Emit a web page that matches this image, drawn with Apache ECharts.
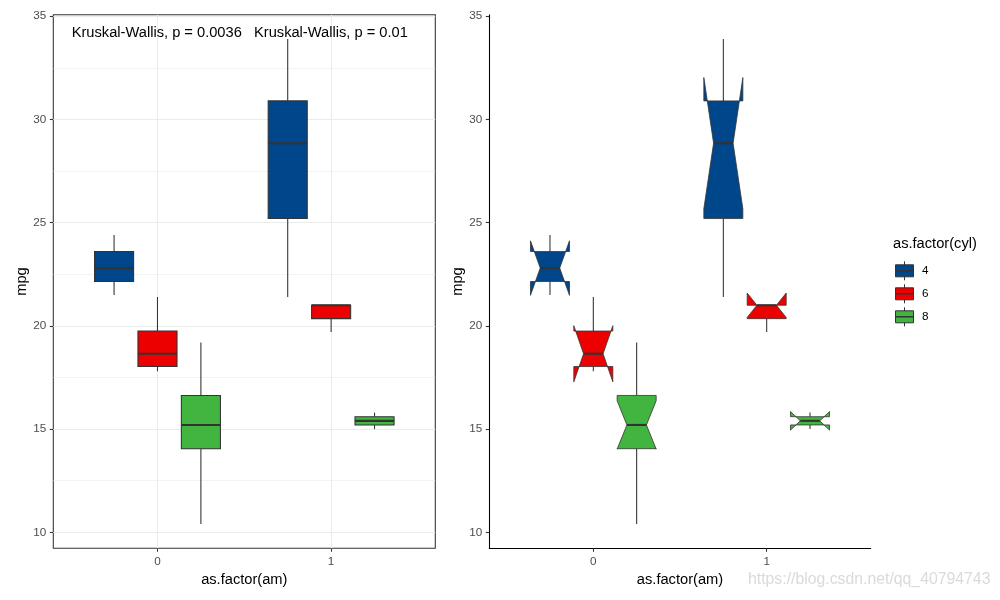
<!DOCTYPE html>
<html>
<head>
<meta charset="utf-8">
<script src="https://cdn.jsdelivr.net/npm/echarts@6/dist/echarts.min.js"></script>
<style>
html,body{margin:0;padding:0;background:#fff;}
#chart{width:1000px;height:600px;}
</style>
</head>
<body>
<div id="chart"></div>
<script>
// ---- data (mtcars mpg by am and cyl) ----
const amLevels = ['0', '1'];
const cylLevels = ['4', '6', '8'];
const cylColors = ['#00468B', '#ED0000', '#42B540'];
const groupAm  = [0, 0, 0, 1, 1, 1];
const groupCyl = [0, 1, 2, 0, 1, 2];
const boxMin   = [21.5, 17.8, 10.4, 21.4, 19.7, 15.0];
const boxQ1    = [22.15, 18.03, 14.05, 25.2, 20.35, 15.2];
const boxMed   = [22.8, 18.65, 15.2, 28.85, 21.0, 15.4];
const boxQ3    = [23.6, 19.75, 16.63, 30.9, 21.0, 15.6];
const boxMax   = [24.4, 21.4, 19.2, 33.9, 21.0, 15.8];
const notchLo  = [21.48, 17.29, 14.03, 25.67, 20.41, 14.95];
const notchHi  = [24.12, 20.01, 16.37, 32.03, 21.59, 15.85];
const yTicks   = [10, 15, 20, 25, 30, 35];
const yMinor   = [12.5, 17.5, 22.5, 27.5, 32.5];
const xTicks   = [0, 1];
const pLabels  = ['Kruskal-Wallis, p = 0.0036', 'Kruskal-Wallis, p = 0.01'];

const dodge = [-0.25, 0, 0.25];
const halfW = 0.1125;
const lineCol = '#333333';
const FONT = 'Liberation Sans, Arial, sans-serif';

const boxData = groupAm.map((a, i) => [a + dodge[groupCyl[i]], boxMin[i], boxQ1[i], boxMed[i], boxQ3[i], boxMax[i], notchLo[i], notchHi[i], groupCyl[i]]);

function whiskers(api, x) {
  const top1 = api.coord([x, api.value(4)]);
  const top2 = api.coord([x, api.value(5)]);
  const bot1 = api.coord([x, api.value(2)]);
  const bot2 = api.coord([x, api.value(1)]);
  const st = {stroke: lineCol, lineWidth: 1.07};
  return [
    {type: 'line', shape: {x1: top1[0], y1: top1[1], x2: top2[0], y2: top2[1]}, style: st},
    {type: 'line', shape: {x1: bot1[0], y1: bot1[1], x2: bot2[0], y2: bot2[1]}, style: st}
  ];
}

function renderPlain(params, api) {
  const x = api.value(0);
  const ci = api.value(8);
  const p1 = api.coord([x - halfW, api.value(4)]);
  const p2 = api.coord([x + halfW, api.value(2)]);
  const m1 = api.coord([x - halfW, api.value(3)]);
  const m2 = api.coord([x + halfW, api.value(3)]);
  const children = whiskers(api, x);
  children.push({type: 'rect', shape: {x: p1[0], y: p1[1], width: p2[0] - p1[0], height: p2[1] - p1[1]},
    style: {fill: cylColors[ci], stroke: lineCol, lineWidth: 1.07}});
  children.push({type: 'line', shape: {x1: m1[0], y1: m1[1], x2: m2[0], y2: m2[1]}, style: {stroke: lineCol, lineWidth: 2.1}});
  return {type: 'group', children: children};
}

function renderNotched(params, api) {
  const x = api.value(0);
  const ci = api.value(8);
  const q1 = api.value(2), med = api.value(3), q3 = api.value(4);
  const nl = api.value(6), nh = api.value(7);
  const xmin = x - halfW, xmax = x + halfW;
  const ind = 0.25 * (xmax - xmin);
  const pts = [
    [xmin, q3], [xmin, nh], [xmin + ind, med], [xmin, nl], [xmin, q1],
    [xmax, q1], [xmax, nl], [xmax - ind, med], [xmax, nh], [xmax, q3]
  ].map(p => api.coord(p));
  const m1 = api.coord([xmin + ind, med]);
  const m2 = api.coord([xmax - ind, med]);
  const children = whiskers(api, x);
  children.push({type: 'polygon', shape: {points: pts}, style: {fill: cylColors[ci], stroke: lineCol, lineWidth: 0.8}});
  children.push({type: 'line', shape: {x1: m1[0], y1: m1[1], x2: m2[0], y2: m2[1]}, style: {stroke: lineCol, lineWidth: 2.1}});
  return {type: 'group', children: children};
}

const Y_MIN = 9.225, Y_MAX = 35.075;
const X_MIN = -0.6, X_MAX = 1.6;

function xAxisCfg(idx) {
  return {
    type: 'value', gridIndex: idx, min: X_MIN, max: X_MAX,
    name: 'as.factor(am)', nameLocation: 'middle', nameGap: 22,
    nameTextStyle: {color: '#000', fontSize: 14.67, fontFamily: FONT},
    axisLine: {show: idx === 1, onZero: false, lineStyle: {color: '#000', width: 1.07}},
    axisTick: {show: true, length: 3.5, customValues: xTicks, lineStyle: {color: lineCol, width: 1.07}},
    axisLabel: {show: true, margin: 7, customValues: xTicks, color: '#4D4D4D', fontSize: 11.7, fontFamily: FONT,
      formatter: v => amLevels[Math.round(v)]},
    splitLine: {show: false}
  };
}
function yAxisCfg(idx) {
  return {
    type: 'value', gridIndex: idx, min: Y_MIN, max: Y_MAX,
    name: 'mpg', nameLocation: 'middle', nameGap: 23, nameRotate: 90,
    nameTextStyle: {color: '#000', fontSize: 14.67, fontFamily: FONT},
    axisLine: {show: idx === 1, onZero: false, lineStyle: {color: '#000', width: 1.07}},
    axisTick: {show: true, length: 3.5, customValues: yTicks, lineStyle: {color: lineCol, width: 1.07}},
    axisLabel: {show: true, margin: 7, customValues: yTicks, color: '#4D4D4D', fontSize: 11.7, fontFamily: FONT},
    splitLine: {show: false}
  };
}

const gridMarks = [];
yTicks.forEach(v => gridMarks.push({yAxis: v, lineStyle: {width: 1.07}}));
yMinor.forEach(v => gridMarks.push({yAxis: v, lineStyle: {width: 0.6}}));
xTicks.forEach(v => gridMarks.push({xAxis: v, lineStyle: {width: 1.07}}));

// legend graphics
const legendItems = [];
legendItems.push({type: 'text', left: 893, top: 236, style: {text: 'as.factor(cyl)', fill: '#000', font: '14.67px ' + FONT}});
cylLevels.forEach((c, i) => {
  const cy = 270.8 + i * 23;
  legendItems.push({type: 'line', shape: {x1: 904.5, y1: cy - 9.5, x2: 904.5, y2: cy + 9.5}, style: {stroke: lineCol, lineWidth: 1}});
  legendItems.push({type: 'rect', shape: {x: 895.5, y: cy - 6, width: 18, height: 12}, style: {fill: cylColors[i], stroke: lineCol, lineWidth: 1}});
  legendItems.push({type: 'line', shape: {x1: 895.5, y1: cy, x2: 913.5, y2: cy}, style: {stroke: lineCol, lineWidth: 1.5}});
  legendItems.push({type: 'text', x: 922, y: cy, style: {text: c, fill: '#000', font: '11.7px ' + FONT, textVerticalAlign: 'middle'}});
});

const chart = echarts.init(document.getElementById('chart'), null, {renderer: 'canvas'});
chart.setOption({
  animation: false,
  backgroundColor: '#fff',
  grid: [
    {left: 53.3, right: 564.7, top: 14.7, bottom: 51.7, show: true, borderColor: lineCol, borderWidth: 1.07, backgroundColor: '#fff', containLabel: false},
    {left: 489.3, right: 129.3, top: 14.7, bottom: 51.7, show: false, containLabel: false}
  ],
  xAxis: [xAxisCfg(0), xAxisCfg(1)],
  yAxis: [yAxisCfg(0), yAxisCfg(1)],
  series: [
    {type: 'line', xAxisIndex: 0, yAxisIndex: 0, data: [], z: 1, silent: true,
      markLine: {silent: true, z: 1, zlevel: 0, symbol: ['none', 'none'], label: {show: false}, animation: false,
        lineStyle: {color: '#EBEBEB', type: 'solid', width: 1.07}, emphasis: {disabled: true}, data: gridMarks}},
    {type: 'custom', xAxisIndex: 0, yAxisIndex: 0, z: 4, renderItem: renderPlain, data: boxData,
      encode: {x: 0, y: [1, 2, 3, 4, 5]}},
    {type: 'custom', xAxisIndex: 1, yAxisIndex: 1, z: 4, renderItem: renderNotched, data: boxData,
      encode: {x: 0, y: [1, 2, 3, 4, 5, 6, 7]}}
  ],
  graphic: [
    {type: 'text', left: 71.7, top: 25, z: 10, style: {text: pLabels[0], fill: '#000', font: '14.67px ' + FONT}},
    {type: 'text', left: 254, top: 25, z: 10, style: {text: pLabels[1], fill: '#000', font: '14.67px ' + FONT}},
    {type: 'group', children: legendItems},
    {type: 'text', left: 748, top: 572, z: 10, style: {text: 'https://blog.csdn.net/qq_40794743', fill: '#DADADA', font: '15.8px ' + FONT}}
  ]
});
</script>
</body>
</html>
